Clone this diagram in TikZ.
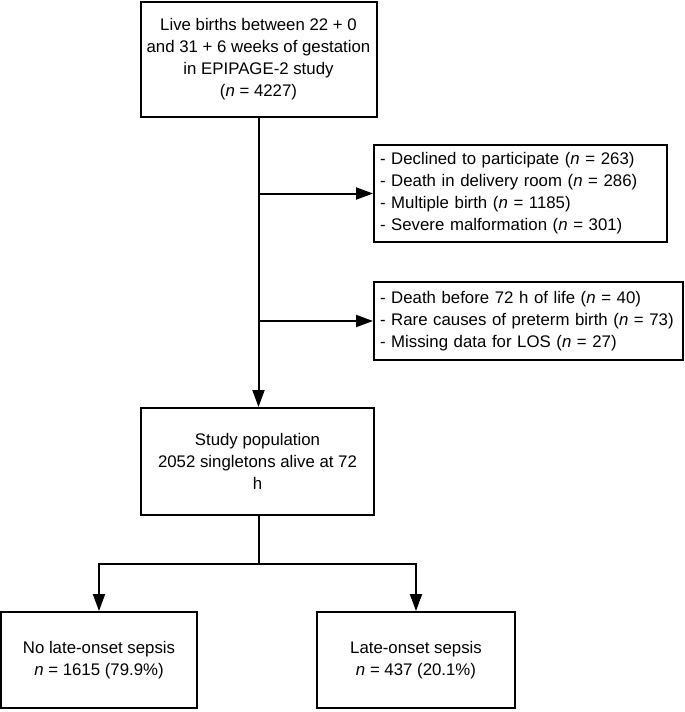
\documentclass[tikz,border=0pt]{standalone}
\usepackage{fontspec}
\setmainfont{Liberation Sans}
\usepackage{tikz}
\usetikzlibrary{arrows.meta, positioning, calc}

\tikzset{
  flowbox/.style={draw, line width=2pt, align=center, font=\fontsize{16.8}{22}\selectfont, inner sep=5pt},
  listbox/.style={flowbox, align=left, inner xsep=6pt},
  flowarrow/.style={line width=2pt, -{Triangle[length=17pt, width=12pt]}},
  flowline/.style={line width=2pt}
}

\begin{document}
\begin{tikzpicture}[x=1pt, y=-1pt]
  \useasboundingbox (0,0) rectangle (685,712);

  % Cohort
  \node[flowbox, minimum width=236pt, minimum height=115pt] (births) at (258.5, 59) {Live births between 22 + 0\\and 31 + 6 weeks of gestation\\in EPIPAGE-2 study\\(\textit{n} = 4227)};

  % Exclusions
  \node[listbox, text width=281pt, minimum height=97pt] (excl1) at (520.5, 193.5) {- Declined to participate (\textit{n} = 263)\\- Death in delivery room (\textit{n} = 286)\\- Multiple birth (\textit{n} = 1185)\\- Severe malformation (\textit{n} = 301)};
  \node[listbox, text width=297pt, minimum height=78pt] (excl2) at (528.5, 321) {- Death before 72 h of life (\textit{n} = 40)\\- Rare causes of preterm birth (\textit{n} = 73)\\- Missing data for LOS (\textit{n} = 27)};

  % Study population
  \node[flowbox, minimum width=233pt, minimum height=107pt] (study) at (257.5, 461.5) {Study population\\2052 singletons alive at 72\\h};

  % Outcome groups
  \node[flowbox, minimum width=196pt, minimum height=96pt] (nolos) at (99, 660) {No late-onset sepsis\\\textit{n} = 1615 (79.9\%)};
  \node[flowbox, minimum width=198pt, minimum height=96pt] (los) at (416, 660) {Late-onset sepsis\\\textit{n} = 437 (20.1\%)};

  % Main flow
  \draw[flowarrow] (births.south) -- (births.south |- study.north);
  \coordinate (j1) at (births.south |- excl1.west);
  \coordinate (j2) at (births.south |- excl2.west);
  \draw[flowarrow] (j1) -- (excl1.west);
  \draw[flowarrow] (j2) -- (excl2.west);

  % Split into groups
  \coordinate (split) at (births.south |- 0, 564);
  \draw[flowline] (split |- study.south) -- (split);
  \draw[flowarrow] (split) -| (nolos.north);
  \draw[flowarrow] (split) -| (los.north);
\end{tikzpicture}
\end{document}
